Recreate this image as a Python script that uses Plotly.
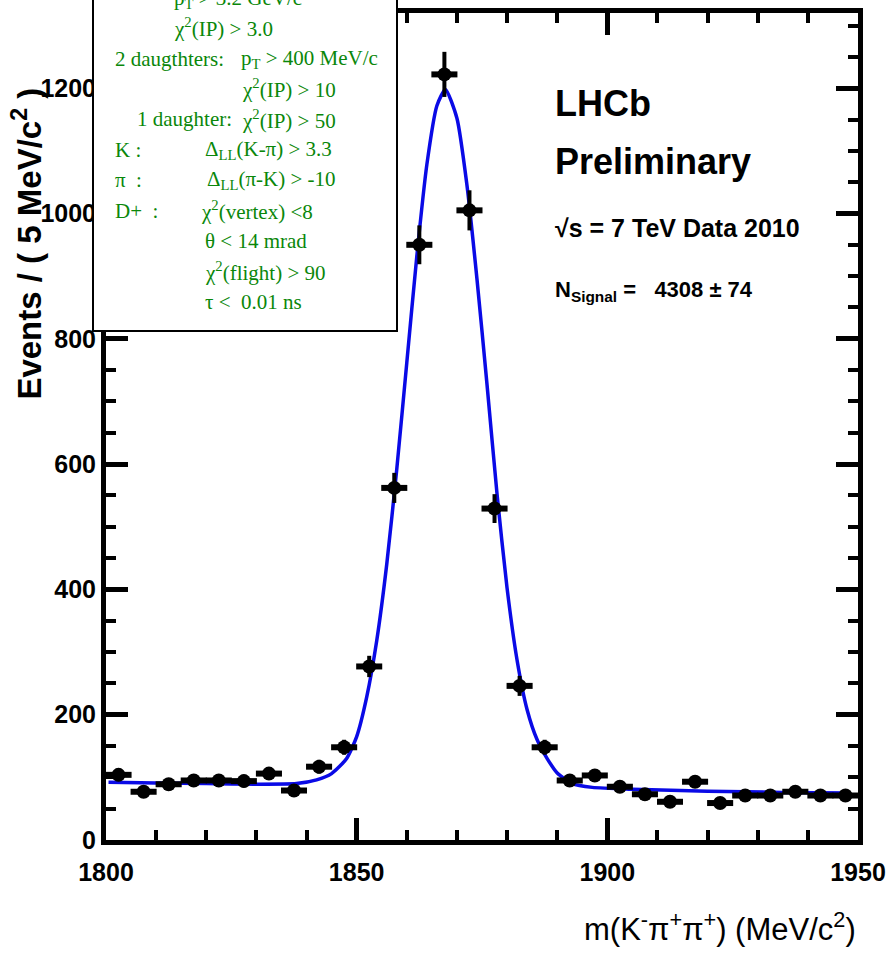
import plotly.graph_objects as go

# ---------------- data ----------------
mass_bins = [1802.5, 1807.5, 1812.5, 1817.5, 1822.5, 1827.5, 1832.5, 1837.5,
             1842.5, 1847.5, 1852.5, 1857.5, 1862.5, 1867.5, 1872.5, 1877.5,
             1882.5, 1887.5, 1892.5, 1897.5, 1902.5, 1907.5, 1912.5, 1917.5,
             1922.5, 1927.5, 1932.5, 1937.5, 1942.5, 1947.5]
events = [104, 77, 89, 95, 95, 94, 106, 79, 117, 148, 277, 562, 950, 1222, 1005,
          529, 246, 148, 95, 103, 85, 73, 61, 93, 59, 71, 71, 77, 71, 71]
event_errors = [10, 9, 9, 10, 10, 10, 10, 9, 11, 12, 17, 24, 31, 36, 32,
                23, 16, 12, 10, 10, 9, 9, 8, 10, 8, 8, 8, 9, 8, 8]

fit_mass = [1800.5, 1810, 1820, 1830, 1838, 1842, 1845, 1848, 1850, 1852, 1854,
            1856, 1858, 1860, 1862, 1864, 1866, 1867.7, 1870, 1872, 1874, 1876,
            1878, 1880, 1882, 1884, 1886, 1888, 1890, 1893, 1897, 1905, 1920,
            1935, 1948.5]
fit_events = [92, 91, 90, 89, 90, 96, 106, 130, 165, 228, 318, 440, 592, 762,
              932, 1078, 1172, 1198, 1152, 1045, 895, 727, 552, 402, 287, 208,
              160, 130, 107, 90, 84, 81, 78, 76, 75]

x_ticks = [1800, 1850, 1900, 1950]
y_ticks = [0, 200, 400, 600, 800, 1000, 1200]

cut_lines = [
    ("", "p<sub>T</sub> > 3.2 GeV/c"),
    ("", "χ<sup>2</sup>(IP) > 3.0"),
    ("2 daugthters:", "p<sub>T</sub> > 400 MeV/c"),
    ("", "χ<sup>2</sup>(IP) > 10"),
    ("1 daughter:", "χ<sup>2</sup>(IP) > 50"),
    ("K :", "Δ<sub>LL</sub>(K-π) > 3.3"),
    ("π  :", "Δ<sub>LL</sub>(π-K) > -10"),
    ("D+  :", "χ<sup>2</sup>(vertex) <8"),
    ("", "θ < 14 mrad"),
    ("", "χ<sup>2</sup>(flight) > 90"),
    ("", "τ <  0.01 ns"),
]

# ---------------- layout geometry (pixels) ----------------
W, H = 894, 956
L, R, T, B = 106, 858, 8, 840


def px(x):
    return (x - L) / (R - L)


def py(y):
    return (B - y) / (B - T)


SANS = "Liberation Sans, Arial"
SERIF = "Liberation Serif, Times New Roman, serif"
GREEN = "rgb(10,135,10)"

fig = go.Figure()

fig.add_trace(go.Scatter(
    x=fit_mass, y=fit_events, mode="lines",
    line=dict(color="#0a0ae6", width=3.5, shape="spline", smoothing=0.6),
    hoverinfo="skip", showlegend=False))

fig.add_trace(go.Scatter(
    x=mass_bins, y=events, mode="markers",
    marker=dict(color="black", size=14, symbol="circle"),
    error_y=dict(type="data", array=event_errors, color="black", thickness=4, width=0),
    error_x=dict(type="constant", value=2.6, color="black", thickness=6, width=0),
    showlegend=False))

axis_common = dict(
    showgrid=False, zeroline=False, showline=True, linecolor="black", linewidth=5,
    mirror="allticks", ticks="inside", tickcolor="black", tickwidth=5, ticklen=22,
    ticklabeloverflow="allow",
)

fig.update_xaxes(
    range=[1800, 1950], tickvals=x_ticks, ticktext=[str(v) for v in x_ticks],
    tickfont=dict(family=SANS, size=25, color="black", weight="bold"),
    ticklabelstandoff=6,
    minor=dict(dtick=10, tick0=1800, ticks="inside", ticklen=10, tickwidth=4, tickcolor="black"),
    **axis_common)
fig.update_yaxes(
    range=[0, 1320], tickvals=y_ticks, ticktext=[str(v) for v in y_ticks],
    tickfont=dict(family=SANS, size=25, color="black", weight="bold"),
    minor=dict(dtick=50, tick0=0, ticks="inside", ticklen=10, tickwidth=4, tickcolor="black"),
    **axis_common)

annotations = []
# axis titles
annotations.append(dict(
    x=px(858), y=py(928), xref="paper", yref="paper", xanchor="right", yanchor="middle",
    text="m(K<sup>-</sup>π<sup>+</sup>π<sup>+</sup>) (MeV/c<sup>2</sup>)",
    showarrow=False, font=dict(family=SANS, size=31, color="black")))
annotations.append(dict(
    x=px(27), y=py(240), xref="paper", yref="paper", xanchor="center", yanchor="middle",
    text="Events / ( 5 MeV/c<sup>2</sup> )", textangle=-90,
    showarrow=False, font=dict(family=SANS, size=33, color="black", weight="bold")))

# LHCb labels
for txt, yc, size in [("LHCb", 99, 36), ("Preliminary", 157, 36),
                      ("√s = 7 TeV Data 2010", 224, 25),
                      ("N<sub>Signal</sub> =\u00a0\u00a0\u00a04308 ± 74", 288, 22)]:
    annotations.append(dict(
        x=px(553), y=py(yc), xref="paper", yref="paper", xanchor="left", yanchor="middle",
        text=txt, showarrow=False,
        font=dict(family=SANS, size=size, color="black", weight="bold")))

# selection-cut box text
line_y = [-6, 23, 54, 84, 115, 146, 176, 207, 237, 268, 299]
label_x = [None, None, 113, None, 135, 113, 113, 113, None, None, None]
value_x = [172, 172, 239, 240, 240, 203, 205, 199, 203, 203, 203]
for (lab, val), yc, lx, vx in zip(cut_lines, line_y, label_x, value_x):
    if lab:
        annotations.append(dict(
            x=px(lx), y=py(yc), xref="paper", yref="paper", xanchor="left", yanchor="middle",
            text=lab, showarrow=False, font=dict(family=SERIF, size=21, color=GREEN)))
    annotations.append(dict(
        x=px(vx), y=py(yc), xref="paper", yref="paper", xanchor="left", yanchor="middle",
        text=val.replace("  ", "\u00a0\u00a0"), showarrow=False,
        font=dict(family=SERIF, size=21, color=GREEN)))

fig.update_layout(
    width=W, height=H,
    margin=dict(l=L, r=W - R, t=T, b=H - B),
    paper_bgcolor="white", plot_bgcolor="white",
    annotations=annotations,
    shapes=[dict(type="rect", xref="paper", yref="paper",
                 x0=px(93), x1=px(397), y0=py(328), y1=py(-20),
                 fillcolor="white", line=dict(color="black", width=2), layer="above")],
)

fig.write_html("out.html")
